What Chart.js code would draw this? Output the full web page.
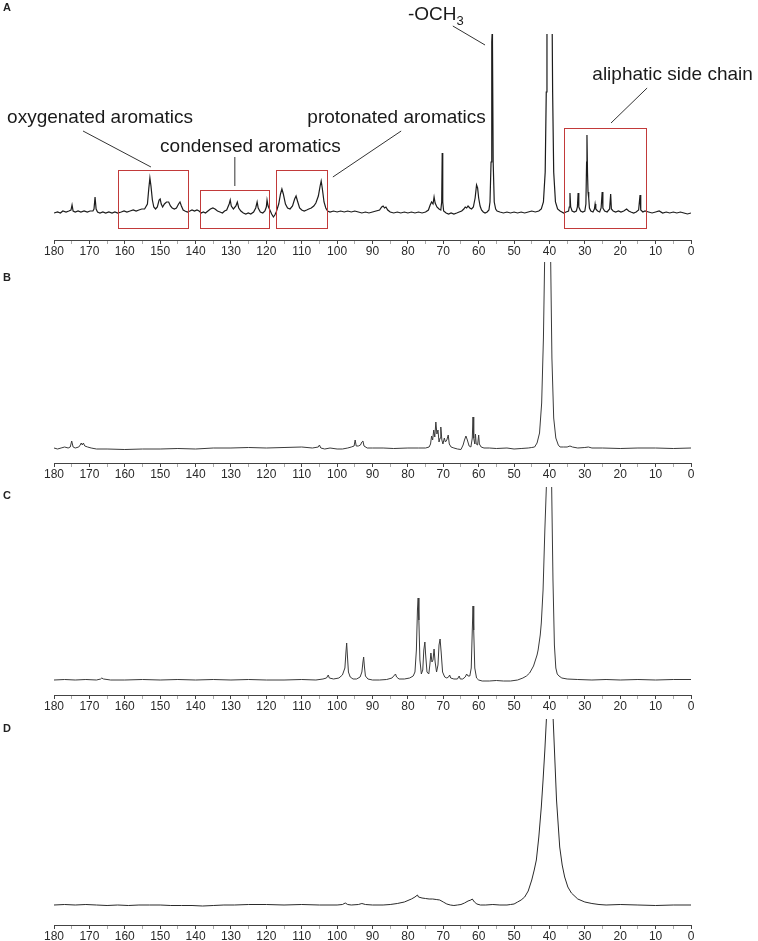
<!DOCTYPE html>
<html>
<head>
<meta charset="utf-8">
<script src="https://cdn.jsdelivr.net/npm/chart.js@4.4.1/dist/chart.umd.min.js"></script>
<style>
  body { margin: 0; background: #fff; }
  #wrap { position: relative; width: 758px; height: 941px; }
  #wrap canvas { position: absolute; left: 0; }
  .tag { position: absolute; left: 3px; font: bold 11px "Liberation Sans", Arial, sans-serif; color: #222; }
</style>
</head>
<body>
<div id="wrap">
  <canvas id="chartA" width="758" height="262" style="top:0px"></canvas>
  <canvas id="chartB" width="758" height="223" style="top:262px"></canvas>
  <canvas id="chartC" width="758" height="232" style="top:485px"></canvas>
  <canvas id="chartD" width="758" height="224" style="top:717px"></canvas>
  <div class="tag" style="top:1px">A</div>
  <div class="tag" style="top:271px">B</div>
  <div class="tag" style="top:489px">C</div>
  <div class="tag" style="top:722px">D</div>
</div>
<script>
// chemical shift (ppm) and intensity
const spectrumA = [
  [180,-1],[179,0],[178.2,-1],[177.5,1],[176.6,0],[175.8,1],[175.2,2],[174.9,7],[174.6,1],[174,0],
  [173.2,1],[172.4,0],[171.5,1],[170.6,0],[169.8,1],[169,1],[168.7,3],[168.4,15],[168.1,3],[167.7,0],
  [167,-1],[166.2,0],[165.4,-1],[164.5,0],[163.6,-1],[162.8,0],[162,-1],[161,0],[160.2,1],[159.4,0],
  [158.5,1],[157.6,2],[156.8,1],[156,2],[155.2,3],[154.4,3],[153.6,8],[153.2,24],[152.9,34],[152.6,26],
  [152.2,12],[151.8,5],[151.3,3],[150.8,5],[150.3,12],[150,13],[149.7,8],[149.3,5],[148.8,8],[148.2,10],
  [147.6,10],[147.1,6],[146.6,4],[146,3],[145.4,4],[144.8,8],[144.4,10],[144,6],[143.5,2],[143,1],
  [142.3,0],[141.6,1],[141,2],[140.3,1],[139.6,2],[139,1],[138.4,-1],[137.8,0],[137.2,-1],[136.5,1],
  [135.8,3],[135.1,4],[134.5,3],[133.8,1],[133.1,0],[132.4,-1],[131.8,1],[131.2,2],[130.5,8],[130.2,12],
  [129.9,6],[129.3,3],[128.6,6],[128.2,10],[127.8,4],[127.2,1],[126.5,-1],[125.8,-2],[125.1,-1],[124.4,-2],
  [123.6,0],[123,4],[122.6,10],[122.3,4],[121.7,0],[121,-1],[120.4,1],[120,5],[119.8,12],[119.5,6],
  [119,2],[118.5,-2],[118,-5],[117.6,-3],[117.2,0],[116.5,8],[116,18],[115.6,23],[115.2,18],[114.6,8],
  [114,4],[113.3,3],[112.6,6],[112,13],[111.6,16],[111.2,11],[110.6,4],[110,2],[109.3,1],[108.6,2],
  [108,3],[107.3,4],[106.6,6],[106,9],[105.3,16],[104.8,26],[104.5,31],[104.2,24],[103.7,10],[103.2,4],
  [102.7,1],[102,0],[101,1],[100,0],[99,1],[98,0],[97,1],[96,0],[95,1],[94,0],
  [93,-1],[92,0],[91,-1],[90,0],[89,1],[88,2],[87.4,5],[87,6],[86.6,4],[86.2,5],
  [85.7,2],[85,0],[84,-1],[83,0],[82,-1],[81,0],[80,-1],[79,0],[78,-1],[77,0],
  [76,-1],[75,0],[74.2,2],[73.7,7],[73.3,10],[72.9,8],[72.6,15],[72.3,9],[71.8,5],[71.2,3],
  [70.7,2],[70.45,10],[70.3,59],[70.15,10],[69.9,1],[69.2,-1],[68.5,-2],[67.8,-1],[67,-2],[66.2,-1],
  [65.5,0],[64.8,1],[64.2,3],[63.8,5],[63.4,4],[63,6],[62.5,4],[62,3],[61.5,5],[61,14],
  [60.6,27],[60.3,24],[60,14],[59.6,6],[59.2,2],[58.7,0],[58.2,-1],[57.6,0],[57.1,2],[56.8,10],
  [56.5,50],[56.3,170],[56.2,178],[56.1,170],[55.9,50],[55.6,10],[55.2,3],[54.8,1],[54,0],[53,-1],
  [52,0],[51,-1],[50,0],[49,-1],[48,0],[47,-1],[46,0],[45,1],[44,0],[43,1],
  [42.3,3],[41.7,10],[41.2,40],[40.9,120],[40.7,220],[40,600],[39.3,220],[39.1,120],[38.8,40],[38.3,10],
  [37.7,3],[37,1],[36.5,0],[36,-1],[35.3,0],[34.6,1],[34.4,5],[34.2,19],[34,5],[33.6,1],
  [33,0],[32.4,1],[32.1,5],[31.9,19],[31.7,5],[31.2,1],[30.6,0],[30,1],[29.7,8],[29.5,50],
  [29.4,77],[29.25,40],[29.1,20],[28.9,14],[28.7,4],[28.3,1],[27.7,0],[27.3,3],[27.1,8],[26.9,3],
  [26.4,1],[25.8,0],[25.4,4],[25.1,20],[24.9,4],[24.4,1],[23.7,0],[23,3],[22.7,18],[22.5,3],
  [22,1],[21.3,0],[20.5,1],[19.8,0],[19,1],[18.2,3],[17.6,1],[17,0],[16.2,-1],[15.5,0],
  [14.8,2],[14.4,17],[14.2,2],[13.6,0],[13,1],[12,0],[11,-1],[10,0],[9,1],[8,-1],
  [7,0],[6,-1],[5,0],[4,-1],[3,0],[2,-1],[1,-2],[0,-1]
]

const spectrumB = [
  [180,0],[179,-1],[178,0],[177,1],[176,0],[175.4,1],[175,7],[174.6,1],[174,0],[173,1],
  [172.6,3],[172.3,5],[172,3],[171.7,5],[171.3,2],[170.5,1],[169.5,0],[168,-1],[165,-1],[160,-1.5],
  [155,-1],[150,-1],[145,-0.5],[140,-1],[135,0],[130,0],[125,0.5],[120,0],[115,0.5],[110,1],
  [107,0],[105.3,1],[105,3],[104.6,0],[103.5,-1],[102,0],[100,-1],[98.5,-1],[97,0],[96,1],
  [95.2,2],[94.9,8],[94.6,2],[94,2],[93.4,3],[93,6],[92.7,7],[92.4,2],[91.5,0],[90,0],
  [87,0],[84,-0.5],[80,0],[77,0],[75,0],[74,1],[73.6,4],[73.3,12],[73,8],[72.7,18],
  [72.4,11],[72.1,26],[71.8,14],[71.5,18],[71.2,6],[70.9,10],[70.7,21],[70.4,8],[70.1,4],[69.7,10],
  [69.4,6],[69,8],[68.6,13],[68.3,4],[67.8,1],[67,0],[66,-1],[65,-1.5],[64.4,3],[64,8],
  [63.6,12],[63.2,8],[62.7,2],[62.2,1],[61.8,10],[61.6,31],[61.4,10],[61.1,4],[60.9,14],[60.7,4],
  [60.3,3],[60,13],[59.8,4],[59.3,1],[58.5,0],[57,0],[55,-0.5],[52,0],[50,-1],[48,-0.5],
  [46,0],[45,0.5],[44.2,1],[43.5,5],[42.8,15],[42.2,45],[41.7,110],[41.3,200],[40.5,900],[39.7,200],
  [39.3,90],[38.8,30],[38.2,10],[37.5,3],[37,1],[36,1],[35,1],[34.2,2],[33.5,1],[32,0],
  [30,0.5],[29,1],[28,0],[25,0],[20,-0.5],[15,0],[10,0],[5,-0.5],[0,0]
]

const spectrumC = [
  [180,0],[177,0.5],[174,0],[171,0.5],[168,0],[166.8,1],[166.5,2],[166,1],[164,0],[160,0],
  [155,0.5],[150,0],[145,0.5],[140,0],[135,0.5],[130,0],[125,0.5],[120,0],[115,0],[110,0.5],
  [106,0],[104,1],[103,2],[102.5,5],[102.2,2],[101,1],[99.5,2],[98.5,5],[97.8,12],[97.5,28],
  [97.3,37],[97.1,25],[96.8,8],[96.3,3],[95.5,1],[94.5,1],[93.5,3],[93,8],[92.7,18],[92.5,23],
  [92.3,14],[92,4],[91.3,1],[90,0],[88,0],[86,0.5],[84.5,2],[84,4],[83.5,6],[83.2,3],
  [82.5,1],[81,1],[79.5,2],[78.5,4],[78,8],[77.6,30],[77.3,70],[77.1,82],[76.9,60],[76.6,20],
  [76.2,6],[75.8,10],[75.5,30],[75.2,38],[75,26],[74.6,8],[74.1,6],[73.8,15],[73.5,27],[73.2,18],
  [72.9,20],[72.6,31],[72.3,18],[71.9,8],[71.5,15],[71.2,35],[70.9,41],[70.6,28],[70.2,8],[69.6,3],
  [69,2],[68.5,3],[68.2,5],[67.9,2],[67,1],[66,1],[65.5,4],[65.2,1],[64.5,1],[63.8,3],
  [63.4,6],[63,4],[62.5,4],[62.1,12],[61.8,50],[61.6,74],[61.4,50],[61.1,12],[60.6,2],[60,0],
  [59,-1],[57,-1],[55,-0.5],[53,-1],[51,-1],[49,0],[47.5,2],[46.5,4],[45.6,7],[44.5,14],
  [43.5,25],[43.2,30],[42.6,45],[42.3,57],[41.8,90],[41.3,150],[40.8,200],[40,900],[39.4,200],[39,100],
  [38.6,35],[38.2,12],[37.8,6],[37.3,4],[36.5,2],[35,1],[32,0.5],[28,0],[24,0.5],[20,0],
  [15,0.5],[10,0],[5,0.5],[0,0.5]
]

const spectrumD = [
  [180,0],[177,0.5],[174,0],[171,0.5],[168,0],[165,-0.5],[162,0],[159,-0.5],[156,0],[153,0],
  [150,0],[147,-0.5],[144,-0.5],[141,-0.5],[138,-1],[135,-0.5],[132,0],[129,0],[125,0.5],[120,0.5],
  [115,0],[110,0.5],[105,0],[100,0],[98.5,0.5],[97.7,2],[97,0.5],[96,0],[94,0.5],[93,1.5],
  [92,0.5],[90,0],[87,0],[85,0.5],[83,1.5],[81,3],[79,6],[78,8],[77.3,10],[77,8],
  [76,7],[75,6.5],[74,6],[73,6],[72,5.5],[71,5],[70,3],[69,1],[68,0],[67,-0.5],
  [66,0],[65,0.5],[64,2],[63,4],[62.2,5],[61.8,6],[61.2,3],[60.5,1],[59.5,0],[58,0],
  [56,0.5],[54,0],[52,0],[51,0.5],[50,1],[49,3],[48,5],[47,8],[46,14],[45,25],
  [44.3,35],[43.7,45],[43,68],[42.3,98],[41.8,125],[41.3,155],[40.8,190],[40,400],[39,190],[38.7,165],
  [38,105],[37.1,58],[36.4,40],[35.7,28],[34.8,18],[33.8,12],[32,6],[30,3],[28,1.5],[26,0.5],
  [24,0],[20,0.5],[15,0],[10,-0.5],[5,0],[0,0]
]

// annotated regions of spectrum A (ppm range, intensity range)
const regionBoxes = [
  { from: 161.9, to: 142.1, top: 42, bottom: -16 },
  { from: 138.7, to: 119.2, top: 22, bottom: -16 },
  { from: 117.2, to: 102.8, top: 42, bottom: -16 },
  { from: 35.9, to: 12.8, top: 84, bottom: -16 }
]
const regionLabels = [
  { text: 'oxygenated aromatics', ppm: 167.0, y: 94, line: [[171.8, 81], [152.6, 45]] },
  { text: 'condensed aromatics', ppm: 124.5, y: 65, line: [[128.9, 55], [128.9, 26]] },
  { text: 'protonated aromatics', ppm: 83.2, y: 94, line: [[101.2, 35], [81.9, 81]] },
  { text: 'aliphatic side chain', ppm: 5.2, y: 137, line: [[22.6, 89], [12.4, 124]] },
  { text: '-OCH', sub: '3', ppm: 80.0, y: 197, line: [[67.3, 186], [58.2, 167]] }
]

const ppmTicks = { min: 0, max: 180, step: 5 }

const annotationPlugin = {
  id: 'regions',
  afterDraw(chart) {
    const c = chart.ctx
    const xs = chart.scales.x
    const ys = chart.scales.y
    c.save()
    c.lineWidth = 1
    c.strokeStyle = '#c23a3a'
    regionBoxes.forEach(b => {
      const x1 = xs.getPixelForValue(b.from)
      const x2 = xs.getPixelForValue(b.to)
      const y1 = ys.getPixelForValue(b.top)
      const y2 = ys.getPixelForValue(b.bottom)
      c.strokeRect(Math.round(x1) + 0.5, Math.round(y1) + 0.5, Math.round(x2 - x1), Math.round(y2 - y1))
    })
    c.strokeStyle = '#333'
    c.fillStyle = '#1a1a1a'
    c.textBaseline = 'middle'
    regionLabels.forEach(l => {
      c.beginPath()
      c.moveTo(xs.getPixelForValue(l.line[0][0]), ys.getPixelForValue(l.line[0][1]))
      c.lineTo(xs.getPixelForValue(l.line[1][0]), ys.getPixelForValue(l.line[1][1]))
      c.stroke()
      const px = xs.getPixelForValue(l.ppm)
      const py = ys.getPixelForValue(l.y)
      c.font = '19px "Liberation Sans", Arial, sans-serif'
      if (l.sub) {
        // subscript label, left aligned
        c.textAlign = 'left'
        c.fillText(l.text, px, py)
        const w = c.measureText(l.text).width
        c.font = '13px "Liberation Sans", Arial, sans-serif'
        c.fillText(l.sub, px + w, py + 6)
      } else {
        c.textAlign = 'center'
        c.fillText(l.text, px, py)
      }
    })
    c.restore()
  }
}

function makeSpectrum(id, points, baseline, clipTop, axisY, canvasTop, color, width, extraPlugins) {
  const canvas = document.getElementById(id)
  const axisH = 16
  return new Chart(canvas.getContext('2d'), {
    type: 'line',
    data: {
      datasets: [{
        data: points.map(p => ({ x: p[0], y: p[1] })),
        borderColor: color,
        borderWidth: width,
        pointRadius: 0,
        tension: 0,
        fill: false
      }]
    },
    options: {
      responsive: false,
      animation: false,
      devicePixelRatio: 1,
      parsing: false,
      layout: {
        padding: {
          top: clipTop - canvasTop,
          left: 54,
          right: 67,
          bottom: canvasTop + canvas.height - axisY - axisH
        }
      },
      plugins: { legend: { display: false }, tooltip: { enabled: false } },
      scales: {
        x: {
          type: 'linear',
          reverse: true,
          min: ppmTicks.min,
          max: ppmTicks.max,
          afterFit: (scale) => { scale.height = axisH },
          border: { display: true, color: '#444', width: 1 },
          grid: {
            drawOnChartArea: false,
            drawTicks: true,
            tickLength: 4,
            // minor ticks at the 5s are fainter
            tickColor: (ctx) => (ctx.tick && ctx.tick.value % 10 === 0) ? '#444' : '#aaa'
          },
          ticks: {
            stepSize: ppmTicks.step,
            autoSkip: false,
            maxRotation: 0,
            padding: 0,
            color: '#2a2a2a',
            font: { family: '"Liberation Sans", Arial, sans-serif', size: 12 },
            callback: (v) => v % 10 === 0 ? String(v) : ''
          }
        },
        y: {
          display: false,
          min: baseline - axisY,
          max: baseline - clipTop
        }
      }
    },
    plugins: extraPlugins || []
  })
}

makeSpectrum('chartA', spectrumA, 212, 34, 240, 0, '#1c1c1c', 1.2, [annotationPlugin])
makeSpectrum('chartB', spectrumB, 448, 262, 463, 262, '#3a3a3a', 1)
makeSpectrum('chartC', spectrumC, 680, 487, 695, 485, '#3a3a3a', 1)
makeSpectrum('chartD', spectrumD, 905, 719, 925, 717, '#2a2a2a', 1)
</script>
</body>
</html>
